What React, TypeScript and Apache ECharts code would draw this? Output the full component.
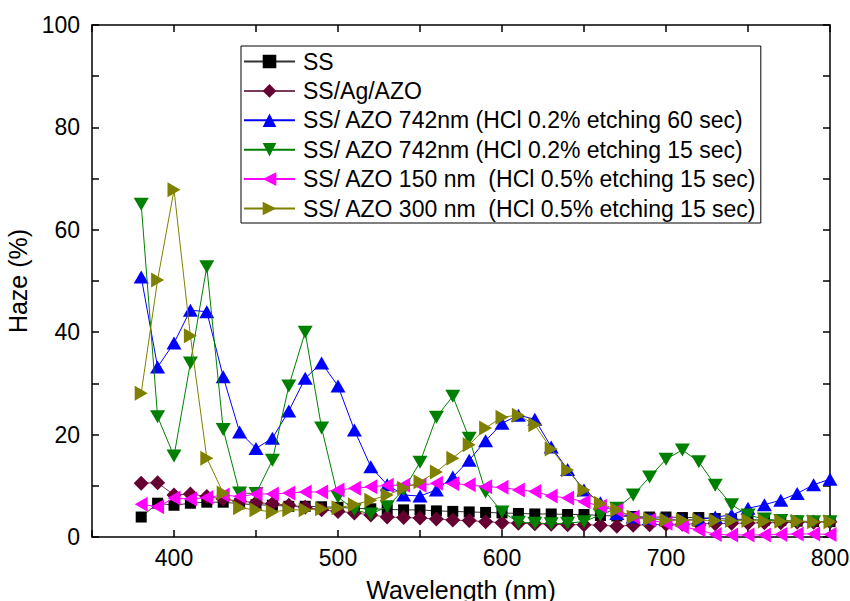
import React, { useEffect, useRef } from "react";
import * as echarts from "echarts";

const wavelengths = [380, 390, 400, 410, 420, 430, 440, 450, 460, 470, 480, 490, 500, 510, 520, 530, 540, 550, 560, 570, 580, 590, 600, 610, 620, 630, 640, 650, 660, 670, 680, 690, 700, 710, 720, 730, 740, 750, 760, 770, 780, 790, 800];

const ss = [3.9, 6.6, 6.2, 6.6, 6.8, 6.8, 6.5, 6.3, 6.2, 6.0, 6.0, 5.9, 5.8, 5.6, 5.5, 5.4, 5.3, 5.3, 5.1, 5.0, 4.9, 4.8, 4.7, 4.6, 4.5, 4.5, 4.4, 4.4, 4.2, 4.1, 4.0, 3.9, 3.9, 3.8, 3.8, 3.6, 3.5, 3.4, 3.3, 3.2, 3.1, 3.0, 3.0];
const ssAgAzo = [10.5, 10.6, 8.2, 8.4, 7.9, 7.4, 7.0, 6.7, 6.5, 6.2, 5.8, 5.3, 5.0, 4.7, 4.3, 3.9, 3.8, 3.7, 3.5, 3.3, 3.2, 3.0, 2.8, 2.7, 2.6, 2.5, 2.4, 2.4, 2.3, 2.1, 2.3, 2.4, 2.5, 2.5, 2.6, 2.6, 2.7, 2.7, 2.8, 2.8, 2.9, 2.9, 3.0];
const azo742e60 = [50.8, 33.2, 37.9, 44.3, 44.0, 31.3, 20.5, 17.3, 19.3, 24.6, 31.0, 34.0, 29.5, 20.9, 13.7, 10.2, 8.2, 8.0, 9.2, 11.7, 15.0, 18.8, 22.2, 23.8, 23.0, 17.6, 13.2, 9.2, 6.7, 4.6, 3.9, 3.6, 3.4, 3.3, 3.4, 3.9, 4.3, 5.6, 6.3, 7.2, 8.5, 10.2, 11.3];
const azo742e15 = [65.0, 23.5, 15.8, 34.0, 52.8, 21.0, 8.6, 8.5, 15.0, 29.5, 40.0, 21.3, 7.8, 5.3, 4.5, 5.9, 9.2, 14.6, 23.4, 27.5, 19.3, 8.8, 4.9, 2.9, 2.7, 2.6, 2.7, 3.0, 4.3, 5.6, 8.2, 11.7, 15.2, 17.0, 14.7, 10.1, 6.3, 4.3, 3.5, 3.2, 3.0, 3.0, 3.0];
const azo150 = [6.4, 5.9, 7.6, 7.4, 7.7, 8.2, 7.9, 8.4, 8.4, 8.6, 8.8, 8.8, 9.2, 9.5, 9.8, 10.1, 10.1, 10.1, 10.5, 10.4, 10.2, 9.8, 9.7, 9.2, 8.9, 8.0, 7.6, 6.9, 6.0, 5.2, 3.9, 3.3, 2.7, 2.0, 1.4, 0.5, 0.4, 0.4, 0.4, 0.5, 0.6, 0.6, 0.5];
const azo300 = [28.1, 50.2, 67.8, 39.3, 15.4, 8.6, 5.7, 5.3, 4.9, 5.3, 5.3, 5.5, 5.7, 6.3, 7.2, 8.2, 9.5, 10.8, 12.7, 15.4, 18.0, 21.3, 23.4, 23.8, 21.9, 17.2, 13.1, 9.2, 6.6, 5.3, 3.9, 3.5, 3.3, 3.3, 3.3, 3.2, 3.2, 3.2, 3.1, 3.1, 3.1, 3.0, 3.0];

const seriesNames = [
  "SS",
  "SS/Ag/AZO",
  "SS/ AZO 742nm (HCl 0.2% etching 60 sec)",
  "SS/ AZO 742nm (HCl 0.2% etching 15 sec)",
  "SS/ AZO 150 nm  (HCl 0.5% etching 15 sec)",
  "SS/ AZO 300 nm  (HCl 0.5% etching 15 sec)",
];
const seriesValues = [ss, ssAgAzo, azo742e60, azo742e15, azo150, azo300];
const seriesColors = ["#000000", "#660033", "#0000ff", "#008000", "#ff00ff", "#808000"];
const lineColors = ["#333333", "#7a3a5a", "#0000ff", "#008000", "#ff00ff", "#808000"];
const seriesSymbols = [
  "rect",
  "diamond",
  "path://M5,0L10,9L0,9Z",
  "path://M0,0L10,0L5,9Z",
  "path://M9,0L9,10L0,5Z",
  "path://M0,0L0,10L9,5Z",
];
const seriesSymbolSizes: any[] = [[11, 11], [15, 15], [15, 13], [15, 13], [13, 15], [13, 15]];

const FONT = "'Liberation Sans', Arial, sans-serif";

export default function App() {
  const ref = useRef<HTMLDivElement>(null);
  useEffect(() => {
    if (!ref.current) return;
    const chart = echarts.init(ref.current, null, { renderer: "svg" });
    const axisCommon = {
      axisLine: { show: true, onZero: false, lineStyle: { color: "#000", width: 1.5 } },
      splitLine: { show: false },
    };
    const tickStyle = { color: "#000", width: 1.5 };
    chart.setOption({
      animation: false,
      backgroundColor: "#ffffff",
      grid: { left: 92, right: 20, top: 25, bottom: 64, containLabel: false, outerBoundsMode: "none" },
      legend: {
        orient: "vertical",
        left: 241,
        top: 46,
        data: seriesNames,
        itemWidth: 51,
        itemHeight: 17,
        itemGap: 4.4,
        borderColor: "#000",
        borderWidth: 1,
        padding: [3, 4, 2, 2],
        textStyle: { fontFamily: FONT, fontSize: 23, color: "#000", lineHeight: 25, padding: [0, 0, 0, 3] },
      },
      xAxis: [
        {
          type: "value",
          min: 350,
          max: 800,
          interval: 50,
          ...axisCommon,
          axisTick: { show: true, inside: true, length: 7, lineStyle: tickStyle },
          axisLabel: {
            fontFamily: FONT,
            fontSize: 23,
            color: "#000",
            margin: 9,
            formatter: (v: number) => (v % 100 === 0 ? String(v) : ""),
          },
          name: "Wavelength (nm)",
          nameLocation: "middle",
          nameGap: 40,
          nameTextStyle: { fontFamily: FONT, fontSize: 25, color: "#000" },
        },
        {
          type: "value",
          position: "top",
          min: 350,
          max: 800,
          interval: 50,
          ...axisCommon,
          axisTick: { show: true, inside: true, length: 7, lineStyle: tickStyle },
          axisLabel: { show: false },
        },
      ],
      yAxis: [
        {
          type: "value",
          min: 0,
          max: 100,
          interval: 20,
          ...axisCommon,
          axisTick: { show: true, inside: true, length: 7, lineStyle: tickStyle },
          minorTick: { show: true, splitNumber: 2, length: 7, lineStyle: tickStyle },
          axisLabel: { fontFamily: FONT, fontSize: 23, color: "#000", margin: 12 },
          name: "Haze (%)",
          nameLocation: "middle",
          nameGap: 53,
          nameTextStyle: { fontFamily: FONT, fontSize: 25, color: "#000" },
        },
        {
          type: "value",
          position: "right",
          min: 0,
          max: 100,
          interval: 20,
          ...axisCommon,
          axisTick: { show: true, inside: true, length: 7, lineStyle: tickStyle },
          minorTick: { show: true, splitNumber: 2, length: 7, lineStyle: tickStyle },
          axisLabel: { show: false },
        },
      ],
      series: seriesNames.map((name, i) => ({
        name,
        type: "line",
        xAxisIndex: 0,
        yAxisIndex: 0,
        data: wavelengths.map((w, j) => [w, seriesValues[i][j]]),
        symbol: seriesSymbols[i],
        symbolSize: seriesSymbolSizes[i],
        showAllSymbol: true,
        color: seriesColors[i],
        lineStyle: { color: lineColors[i], width: 1 },
        itemStyle: { color: seriesColors[i] },
        clip: true,
        z: 2 + i,
      })),
    });
    return () => chart.dispose();
  }, []);
  return (
    <div
      ref={ref}
      style={{ position: "fixed", left: 0, top: 0, width: 850, height: 601, background: "#fff" }}
    />
  );
}
